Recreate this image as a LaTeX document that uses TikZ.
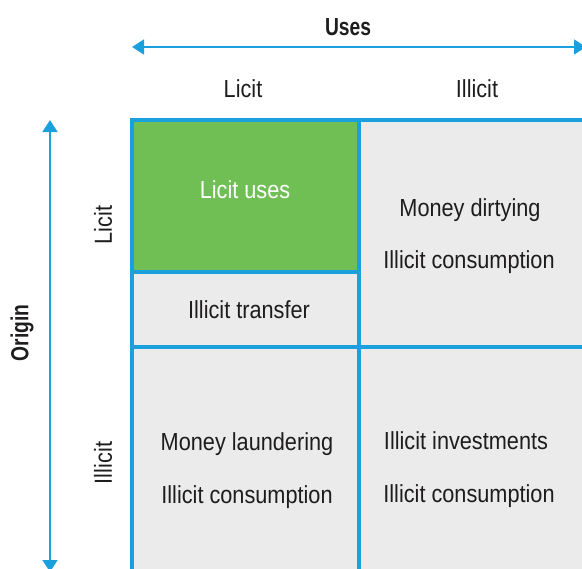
\documentclass[tikz,border=0pt]{standalone}
\usepackage{fontspec}
\setmainfont[FakeStretch=0.88,BoldFeatures={FakeStretch=0.78}]{Liberation Sans}
\usetikzlibrary{arrows.meta}
\definecolor{gridblue}{HTML}{1AA0DC}
\definecolor{cellgreen}{HTML}{70BF55}
\definecolor{cellgray}{HTML}{EBEBEB}
\definecolor{inkdark}{HTML}{1E1C1D}
\tikzstyle{cell} = [rectangle, draw=gridblue, line width=2.6pt, fill=cellgray,
    minimum width=170.25pt, inner sep=0pt]
\tikzstyle{lbl} = [text=inkdark, font=\fontsize{18.5}{22}\selectfont, inner sep=0pt]
\tikzstyle{head} = [lbl, font=\fontsize{18.5}{22}\selectfont\bfseries]
\tikzstyle{axis} = [draw=gridblue, line width=2pt, {Triangle[width=11pt,length=9pt]}-{Triangle[width=11pt,length=9pt]}]

\begin{document}
\begin{tikzpicture}[x=0.75pt,y=-0.75pt]
  \useasboundingbox (0,0) rectangle (582,568);
  \begin{scope}
  \clip (0,0) rectangle (582,568);
  % the grid of cells
  \node[cell,fill=cellgreen,minimum height=114pt] (lu) at (245.5,196) {};
  \node[cell,minimum height=56.25pt] (tr) at (245.5,309.5) {};
  \node[cell,minimum height=170.25pt] (md) at (472.5,233.5) {};
  \node[cell,minimum height=170.25pt] (ml) at (245.5,460.5) {};
  \node[cell,minimum height=170.25pt] (ii) at (472.5,460.5) {};

  % axes
  \coordinate (ul) at (132,47);
  \coordinate (ur) at (586,47);
  \coordinate (ot) at (50,120);
  \coordinate (ob) at (50,572);
  \draw[axis] (ul) -- (ur);
  \draw[axis] (ot) -- (ob);
  \end{scope}

  \node[head] (uses) at (348,27) {Uses};
  \node[head,rotate=90] (origin) at (22,333) {Origin};
  \node[lbl] (ulicit) at (243,89) {Licit};
  \node[lbl] (uillicit) at (477,89) {Illicit};
  \node[lbl,rotate=90] (olicit) at (103,225) {Licit};
  \node[lbl,rotate=90] (oillicit) at (103,463) {Illicit};

  % cell texts
  \node[lbl,text=white] (t1) at (245,190) {Licit uses};
  \node[lbl] (t2) at (249,310) {Illicit transfer};
  \node[lbl] (t3) at (470,210) {Money dirtying};
  \node[lbl] (t4) at (469,262) {Illicit consumption};
  \node[lbl] (t5) at (247,444) {Money laundering};
  \node[lbl] (t6) at (247,497) {Illicit consumption};
  \node[lbl] (t7) at (466,441) {Illicit investments};
  \node[lbl] (t8) at (469,496) {Illicit consumption};
\end{tikzpicture}
\end{document}
